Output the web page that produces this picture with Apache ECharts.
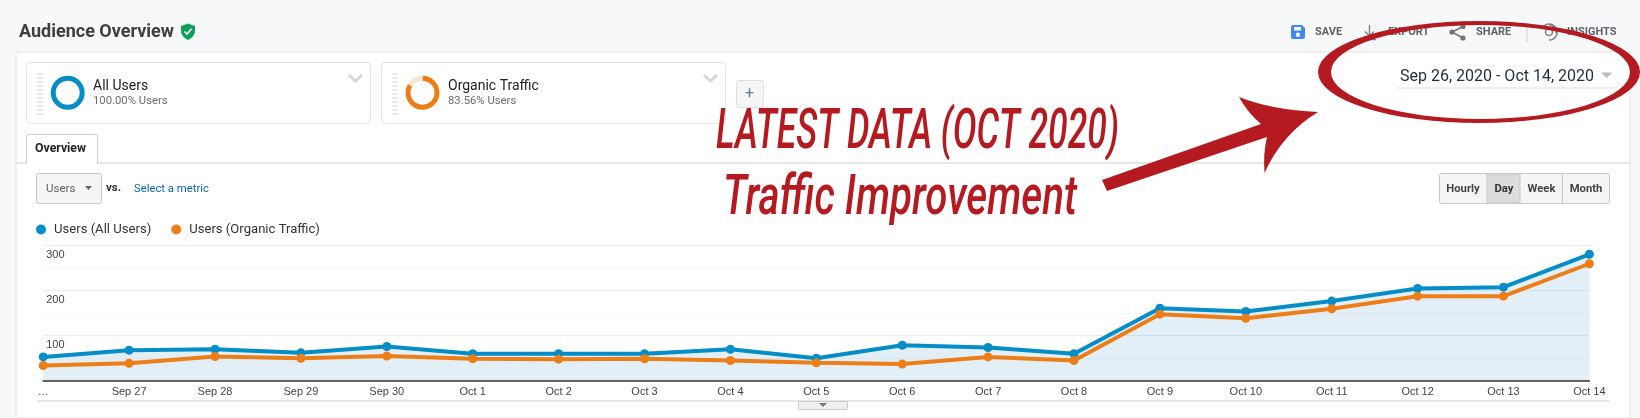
<!DOCTYPE html>
<html>
<head>
<meta charset="utf-8">
<title>Audience Overview</title>
<script src="https://cdn.jsdelivr.net/npm/echarts@6/dist/echarts.min.js"></script>
<style>
    html, body { margin: 0; padding: 0; background: #f7f8fa; }
    #chart { width: 1640px; height: 418px; }
</style>
</head>
<body>
<div id="chart"></div>
<script>
// axis
const dayLabels = ["…", "Sep 27", "Sep 28", "Sep 29", "Sep 30", "Oct 1", "Oct 2", "Oct 3", "Oct 4", "Oct 5",
    "Oct 6", "Oct 7", "Oct 8", "Oct 9", "Oct 10", "Oct 11", "Oct 12", "Oct 13", "Oct 14"];
const shownTicks = [100, 200, 300];

// series
const allUsers = [52, 67, 69, 61, 75, 59, 59, 59, 69, 49, 78, 73, 59, 160, 153, 176, 204, 207, 280];
const organicTraffic = [33, 38, 53, 49, 54, 48, 47, 48, 44, 39, 36, 52, 44, 147, 138, 159, 187, 187, 259];

// segment donuts
const allUsersShare = [100];
const organicShare = [83.56, 16.44];

const segmentCards = [
    { x: 26, w: 344, title: "All Users", sub: "100.00% Users" },
    { x: 381, w: 344, title: "Organic Traffic", sub: "83.56% Users" },
];
const periodButtons = ["Hourly", "Day", "Week", "Month"];

const BLUE = "#058dc7";
const ORANGE = "#ed7e17";
const RED = "#b51a21";
const UI_FONT = "Roboto";

const label = (x, y, text, size, fill, extra = {}) => ({
    type: "text",
    x,
    y,
    z: extra.z || 1,
    style: {
        text,
        fontFamily: extra.font || UI_FONT,
        fontSize: size,
        fontWeight: extra.weight || "normal",
        fill,
        align: extra.align || "left",
        verticalAlign: "middle",
    },
});

const box = (x, y, width, height, fill, stroke, r = 2) => ({
    type: "rect",
    z: 0,
    shape: { x: x + 0.5, y: y + 0.5, width, height, r },
    style: { fill, stroke, lineWidth: 1 },
});

// the graphic component has no plain path type, so each svg path gets its own shape
let shapeCount = 0;
const rawPath = (pathData, fill, stroke = "none", lineWidth = 1, z = 1) => {
    const type = `svgShape${shapeCount++}`;
    echarts.graphic.registerShape(type, echarts.graphic.extendPath(pathData));
    return { type, z, style: { fill, stroke, lineWidth } };
};

const line = (x1, y1, x2, y2, stroke, lineWidth = 1, lineDash) => ({
    type: "line",
    z: 0,
    shape: { x1, y1, x2, y2 },
    style: { stroke, lineWidth, lineDash },
});

const header = [
    { type: "rect", z: -1, shape: { x: 16, y: 52, width: 1614, height: 366 }, style: { fill: "#fff", stroke: "#e6e6e6" } },
    label(19, 32, "Audience Overview", 18, "#3c4043", { weight: 700 }),
    rawPath("M188 23.5 L195 26 V31 C195 35 192 38 188 40 C184 38 181 35 181 31 V26 Z", "#0f9d58"),
    rawPath("M184.5 31.5 L187 34 L191.5 28.8", "none", "#fff", 1.6),

    // toolbar
    rawPath("M1291 27 Q1291 25 1293 25 H1302 L1305 28 V37 Q1305 39 1303 39 H1293 Q1291 39 1291 37 Z", "#4285f4"),
    rawPath("M1294 27 V30.5 H1301 V27 Z M1298 32.5 A2.2 2.2 0 1 0 1298 36.9 A2.2 2.2 0 1 0 1298 32.5 Z", "#fff"),
    label(1315, 32.5, "SAVE", 11, "#5f6368", { weight: 700 }),
    rawPath("M1369.5 25 V36 M1365 31.5 L1369.5 36 L1374 31.5 M1363 39.5 H1376", "none", "#80868b", 1.5),
    label(1388, 32.5, "EXPORT", 11, "#5f6368", { weight: 700 }),
    rawPath("M1463 26.5 L1452 32 L1463 38", "none", "#70757a", 1.5),
    { type: "circle", z: 1, shape: { cx: 1463, cy: 26.5, r: 2.6 }, style: { fill: "#70757a" } },
    { type: "circle", z: 1, shape: { cx: 1452, cy: 32, r: 2.6 }, style: { fill: "#70757a" } },
    { type: "circle", z: 1, shape: { cx: 1463, cy: 38, r: 2.6 }, style: { fill: "#70757a" } },
    label(1476, 32.5, "SHARE", 11, "#5f6368", { weight: 700 }),
    line(1527, 23, 1527, 42, "#d0d0d0"),
    rawPath("M1543 27 A8 8 0 1 1 1549 40 M1549 25 A7 7 0 0 1 1556 33", "none", "#80868b", 1.6),
    { type: "circle", z: 1, shape: { cx: 1549, cy: 32, r: 3.5 }, style: { fill: "none", stroke: "#80868b", lineWidth: 1.6 } },
    label(1567, 32.5, "INSIGHTS", 11, "#5f6368", { weight: 700 }),

    // date picker
    label(1400, 76.5, "Sep 26, 2020 - Oct 14, 2020", 16, "#1f2d3d"),
    rawPath("M1601 72.5 H1612.5 L1606.7 78 Z", "#bdbdbd"),
    line(1397, 88, 1615, 88, "#eeeeee", 2),
];

const cards = segmentCards.flatMap((c) => [
    box(c.x, 62, c.w, 61, "#fff", "#e3e3e3", 4),
    line(c.x + 14, 73, c.x + 14, 116, "#e9e9e9", 6, [2, 2]),
    label(c.x + 67, 86, c.title, 14, "#222"),
    label(c.x + 67, 101.5, c.sub, 11.3, "#6b6b6b"),
    rawPath(`M${c.x + 323} 75 L${c.x + 329.5} 81 L${c.x + 336} 75`, "none", "#d6d6d6", 3),
]);

const controls = [
    box(736, 80, 27, 27, "#f5f5f5", "#e0e0e0"),
    label(749.5, 94, "+", 16, "#6f7f8f", { align: "center" }),

    // tab strip
    line(16, 163, 1630, 163, "#cfcfcf"),
    { type: "rect", z: 1, shape: { x: 26.5, y: 134.5, width: 71, height: 29, r: [2, 2, 0, 0] }, style: { fill: "#fff", stroke: "#cfcfcf" } },
    { type: "rect", z: 1, shape: { x: 27, y: 162, width: 70, height: 3 }, style: { fill: "#fff" } },
    label(35, 149, "Overview", 12.3, "#222", { weight: 700 }),

    // metric select
    box(36, 173, 65, 30, "#f5f5f5", "#c8c8c8"),
    label(46, 189.5, "Users", 11.5, "#5f5f5f"),
    rawPath("M85 186 H92 L88.5 190 Z", "#666"),
    label(106, 188, "vs.", 11.5, "#333", { weight: 700 }),
    label(134, 189, "Select a metric", 11.3, "#0668b4"),

    // period buttons
    box(1439, 173, 170, 30, "#f5f5f5", "#c8c8c8"),
    { type: "rect", z: 0, shape: { x: 1487, y: 174, width: 33, height: 29 }, style: { fill: "#dcdcdc", stroke: "#cacaca" } },
    line(1562.5, 173, 1562.5, 203, "#c8c8c8"),
    label(1463, 189.5, periodButtons[0], 11.3, "#444", { weight: 700, align: "center" }),
    label(1504, 189.5, periodButtons[1], 11.3, "#333", { weight: 700, align: "center" }),
    label(1541.5, 189.5, periodButtons[2], 11.3, "#444", { weight: 700, align: "center" }),
    label(1586, 189.5, periodButtons[3], 11.3, "#444", { weight: 700, align: "center" }),

    // chart footer
    line(37, 401, 1609, 401, "#cccccc", 1),
    box(798, 401, 49, 8, "#efefef", "#cccccc", 1),
    rawPath("M819 403 H827 L823 407 Z", "#777"),
];

// no condensed font here, so squeeze Roboto italic to the measured width
const measureCtx = document.createElement("canvas").getContext("2d");
const headlineText = (x, y, text, targetWidth) => {
    const t = label(x, y, text, 56, RED, { z: 20, weight: 500 });
    t.style.fontStyle = "italic";
    measureCtx.font = "italic 500 56px Roboto";
    t.scaleX = targetWidth / measureCtx.measureText(text).width;
    return t;
};

const annotation = [
    headlineText(716, 134, "LATEST DATA (OCT 2020)", 403),
    headlineText(723, 200, "Traffic Improvement", 354),
    rawPath("M1102 180 L1261 124 Q1247 112 1239 97 Q1272 110 1318 112 Q1282 134 1264.5 173 Q1263 153 1267 137 L1107 191 Z", RED, "none", 0, 20),
    rawPath("M1318 72 A161 51 0 1 1 1640 72 A161 51 0 1 1 1318 72 Z M1331 72 A149.5 47 0 1 0 1630 72 A149.5 47 0 1 0 1331 72 Z", RED, "none", 0, 20),
];

const myChart = echarts.init(document.getElementById("chart"), null, { renderer: "canvas" });

myChart.setOption({
    animation: false,
    backgroundColor: "#f7f8fa",
    textStyle: { fontFamily: UI_FONT },
    legend: {
        left: 31,
        top: 218,
        icon: "circle",
        itemWidth: 10,
        itemHeight: 10,
        itemGap: 20,
        selectedMode: false,
        textStyle: { fontFamily: UI_FONT, fontSize: 13.1, color: "#333", padding: [0, 0, 0, 3] },
        data: ["Users (All Users)", "Users (Organic Traffic)"],
    },
    grid: { left: 43.2, right: 50.6, top: 245.3, height: 135, containLabel: false },
    xAxis: {
        type: "category",
        boundaryGap: false,
        data: dayLabels,
        axisTick: { show: false },
        axisLine: { lineStyle: { color: "#333", width: 1.5 } },
        axisLabel: {
            interval: 0,
            margin: 6,
            showMinLabel: true,
            showMaxLabel: true,
            fontFamily: "Liberation Sans",
            fontSize: 11,
            color: "#444",
        },
    },
    yAxis: {
        type: "value",
        min: 0,
        max: 300,
        interval: 50,
        axisLine: { show: false },
        axisTick: { show: false },
        splitLine: { lineStyle: { color: ["#ececec", "#f6f6f6"], width: 1 } },
        axisLabel: {
            inside: true,
            margin: 3,
            verticalAlign: "top",
            padding: [4, 0, 0, 0],
            fontFamily: "Liberation Sans",
            fontSize: 11,
            color: "#444",
            formatter: (v) => (shownTicks.includes(v) ? String(v) : ""),
        },
    },
    series: [
        {
            name: "Users (All Users)",
            type: "line",
            data: allUsers,
            color: BLUE,
            symbol: "circle",
            symbolSize: 9,
            lineStyle: { width: 4, color: BLUE },
            itemStyle: { color: BLUE },
            areaStyle: { color: "rgba(0,110,170,0.11)", opacity: 1 },
            z: 3,
        },
        {
            name: "Users (Organic Traffic)",
            type: "line",
            data: organicTraffic,
            color: ORANGE,
            symbol: "circle",
            symbolSize: 9,
            lineStyle: { width: 4, color: ORANGE },
            itemStyle: { color: ORANGE },
            z: 4,
        },
        {
            type: "pie",
            center: [67.7, 92.7],
            radius: [12, 17],
            silent: true,
            label: { show: false },
            data: allUsersShare.map((value) => ({ value, itemStyle: { color: BLUE } })),
        },
        {
            type: "pie",
            center: [422.5, 92.7],
            radius: [12, 17],
            silent: true,
            label: { show: false },
            data: [
                { value: organicShare[0], itemStyle: { color: ORANGE } },
                { value: organicShare[1], itemStyle: { color: "#fbe5d0" } },
            ],
        },
    ],
    graphic: { elements: [...header, ...cards, ...controls, ...annotation] },
});
</script>
</body>
</html>
